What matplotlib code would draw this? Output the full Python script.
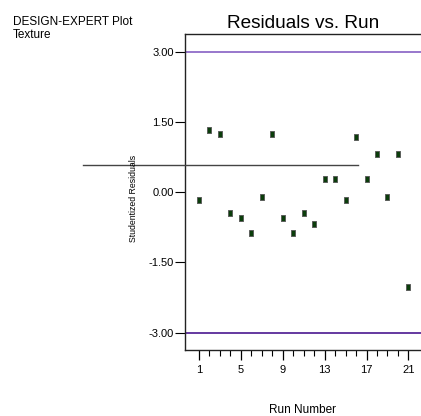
import matplotlib
matplotlib.use("Agg")
import matplotlib.pyplot as plt
from matplotlib.lines import Line2D

runs = list(range(1, 22))
residuals = [-0.165, 1.32, 1.25, -0.44, -0.55, -0.88, -0.11, 1.25, -0.55, -0.88,
             -0.44, -0.67, 0.28, 0.28, -0.165, 1.19, 0.29, 0.81, -0.11, 0.81, -2.02]
limits = [3.0, -3.0]
limit_colors = ["#8660c4", "#4a1890"]
ytick_vals = [-3.0, -1.5, 0.0, 1.5, 3.0]
xtick_vals = [1, 5, 9, 13, 17, 21]

plt.rcParams['font.family'] = ['Liberation Sans', 'DejaVu Sans']

fig = plt.figure(figsize=(4.21, 4.16), dpi=100)
ax = fig.add_axes([185/421, 1-350/416, 1-185/421, (350-34)/416])

for lim, c in zip(limits, limit_colors):
    ax.axhline(lim, color=c, lw=1.2, zorder=1)

rect = [(-0.33, -0.5), (0.33, -0.5), (0.33, 0.5), (-0.33, 0.5), (-0.33, -0.5)]
ax.plot(runs, residuals, linestyle='none', marker=rect, markersize=4.8,
        markerfacecolor='#0b3d0b', markeredgecolor='#555555', markeredgewidth=0.6, zorder=3)

ax.set_xlim(-0.33, 22.2)
ax.set_ylim(-3.37, 3.38)
ax.set_yticks(ytick_vals)
ax.set_yticklabels([f"{v:.2f}" for v in ytick_vals], fontsize=8)
ax.set_xticks(xtick_vals)
ax.set_xticklabels([str(v) for v in xtick_vals], fontsize=8)
ax.set_xticks(runs, minor=True)
ax.tick_params(axis='y', direction='out', length=7, width=0.8, pad=1)
ax.tick_params(axis='x', which='major', direction='out', length=7, width=0.9, pad=4)
ax.tick_params(axis='x', which='minor', direction='out', length=4, width=0.8)
ax.spines['right'].set_visible(False)
for s in ['left', 'top', 'bottom']:
    ax.spines[s].set_linewidth(1.0)
    ax.spines[s].set_color('#222222')

ax.set_title("Residuals vs. Run", fontsize=13.7, pad=4)
fig.text(302.5/421, 1-410/416, "Run Number", fontsize=8.5, ha='center', va='center')
fig.text(133/421, 1-198/416, "Studentized Residuals",
         rotation=90, ha='center', va='center', fontsize=6.3)

fig.text(13/421, 1-22/416, "DESIGN-EXPERT Plot", fontsize=8.5, ha='left', va='center')
fig.text(13/421, 1-35/416, "Texture", fontsize=8.5, ha='left', va='center')

fig.add_artist(Line2D([83/421, 358/421], [1-165/416, 1-165/416], transform=fig.transFigure,
                      color='#444444', lw=1.0))

fig.savefig("out.png", dpi=100)
